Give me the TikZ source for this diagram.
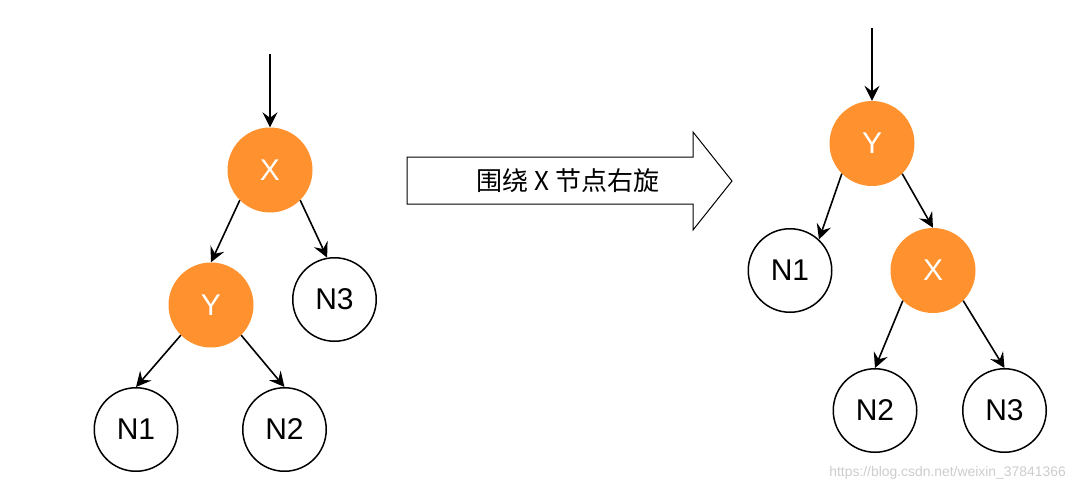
\documentclass[tikz,border=0pt]{standalone}
\usepackage{fontspec}
\setmainfont{Liberation Sans}
\newfontfamily\cjk{Noto Sans CJK SC}
\usetikzlibrary{arrows.meta}
\definecolor{nodeorange}{RGB}{255,146,46}
\definecolor{wmgray}{RGB}{205,205,205}
\begin{document}
\begin{tikzpicture}[x=1pt,y=-1pt,
  hot/.style={circle, fill=nodeorange, minimum size=85pt, inner sep=0pt, text=white, font=\fontsize{30}{30}\selectfont},
  leaf/.style={circle, draw=black, line width=1.5pt, fill=white, minimum size=83.5pt, inner sep=0pt, text=black, font=\fontsize{30}{30}\selectfont},
  link/.style={line width=1.6pt, -{Stealth[length=15pt,width=15pt,inset=5.5pt]}},
  bigarrow/.style={draw=black, line width=1pt, fill=white, line join=miter}
]
\useasboundingbox (0,0) rectangle (1076,491);
\fill[white] (0,0) rectangle (1076,491);

% left tree
\node[hot]  (lx)  at (270,170)     {X};
\node[hot]  (ly)  at (211,305)     {Y};
\node[leaf] (ln3) at (334.5,299.5) {N3};
\node[leaf] (ln1) at (136,429.5)   {N1};
\node[leaf] (ln2) at (284.5,429.5) {N2};
\coordinate (lin) at (270,54);
\draw[link] (lin) -- (lx.north);
\draw[link] (lx.225) -- (ly.north);
\draw[link] (lx.315) -- (ln3.100);
\draw[link] (ly.225) -- (ln1.north);
\draw[link] (ly.315) -- (ln2.north);

% rotation arrow
\draw[bigarrow] (407,157) -- (693,157) -- (693,132) -- (732,181) -- (693,230) -- (693,204) -- (407,204) -- cycle;
\node[font=\cjk\fontsize{26}{26}\selectfont] (rot) at (568,181) {围绕 X 节点右旋};

% right tree
\node[hot]  (ry)  at (872,143.5)    {Y};
\node[leaf] (rn1) at (790,270.5)    {N1};
\node[hot]  (rx)  at (933,270.5)    {X};
\node[leaf] (rn2) at (875,410.5)    {N2};
\node[leaf] (rn3) at (1004.5,410.5) {N3};
\coordinate (rin) at (872,28);
\draw[link] (rin) -- (ry.north);
\draw[link] (ry.225) -- (rn1.47);
\draw[link] (ry.315) -- (rx.north);
\draw[link] (rx.225) -- (rn2.north);
\draw[link] (rx.315) -- (rn3.north);

% watermark
\node[text=wmgray, font=\fontsize{13.9}{13.9}\selectfont, anchor=east, inner sep=0pt] (wm) at (1066,473) {https://blog.csdn.net/weixin\_37841366};
\end{tikzpicture}
\end{document}
